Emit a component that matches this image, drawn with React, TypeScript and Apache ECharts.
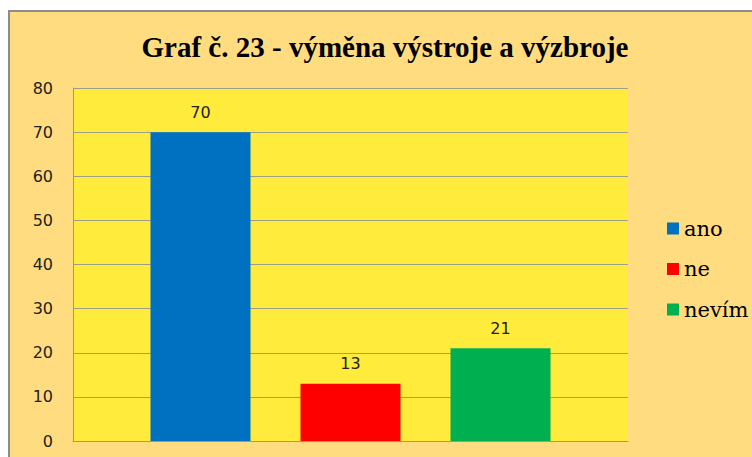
import React, { useEffect, useRef } from "react";
import * as echarts from "echarts";

const titleText = "Graf č. 23 - výměna výstroje a výzbroje";
const categories = [""];
const seriesNames = ["ano", "ne", "nevím"];
const seriesValues = [70, 13, 21];
const seriesColors = ["#0070C0", "#FF0000", "#00B050"];
const yTicks = { min: 0, max: 80, interval: 10 };

export default function App() {
  const ref = useRef<HTMLDivElement>(null);
  useEffect(() => {
    if (!ref.current) return;
    const chart = echarts.init(ref.current, undefined, { renderer: "svg" });
    chart.setOption({
      animation: false,
      backgroundColor: "#ffffff",
      graphic: [
        {
          type: "rect",
          z: -10,
          shape: { x: 9, y: 11, width: 760, height: 460 },
          style: { fill: "#FFDC80", stroke: "#8C8C8C", lineWidth: 2 },
        },
        {
          type: "text",
          x: 385,
          y: 47,
          style: {
            text: titleText,
            font: "bold 29px 'Liberation Serif'",
            fill: "#000",
            align: "center",
            verticalAlign: "middle",
          },
        },
      ],
      grid: {
        left: 73,
        top: 88,
        right: 124,
        bottom: 16,
        show: true,
        backgroundColor: "#FFEB3B",
        borderWidth: 0,
      },
      legend: {
        orient: "vertical",
        left: 662,
        top: 213,
        itemWidth: 12,
        itemHeight: 12,
        itemGap: 19.5,
        icon: "rect",
        data: seriesNames,
        selectedMode: false,
        textStyle: {
          fontFamily: "DejaVu Serif",
          fontSize: 21,
          color: "#000",
        },
      },
      xAxis: {
        type: "category",
        data: categories,
        axisLine: { show: true, lineStyle: { color: "#9A9A8A", width: 1 } },
        axisTick: { show: false },
        axisLabel: { show: false },
      },
      yAxis: {
        type: "value",
        min: yTicks.min,
        max: yTicks.max,
        interval: yTicks.interval,
        axisLine: { show: true, lineStyle: { color: "#9A9A8A", width: 1 } },
        axisTick: { show: false },
        axisLabel: {
          margin: 20,
          fontSize: 16,
          color: "#222",
          fontFamily: "DejaVu Sans",
        },
        splitLine: { show: true, lineStyle: { color: "#9E9E86", width: 1 } },
      },
      series: seriesNames.map((name, i) => ({
        name,
        type: "bar",
        data: [seriesValues[i]],
        barWidth: 100,
        barGap: "50%",
        itemStyle: { color: seriesColors[i] },
        label: {
          show: true,
          position: "top",
          distance: 12,
          fontSize: 16,
          color: "#222",
          fontFamily: "DejaVu Sans",
        },
      })),
    });
    return () => chart.dispose();
  }, []);
  return (
    <div
      ref={ref}
      style={{ position: "absolute", left: 0, top: 0, width: 752, height: 457 }}
    />
  );
}
